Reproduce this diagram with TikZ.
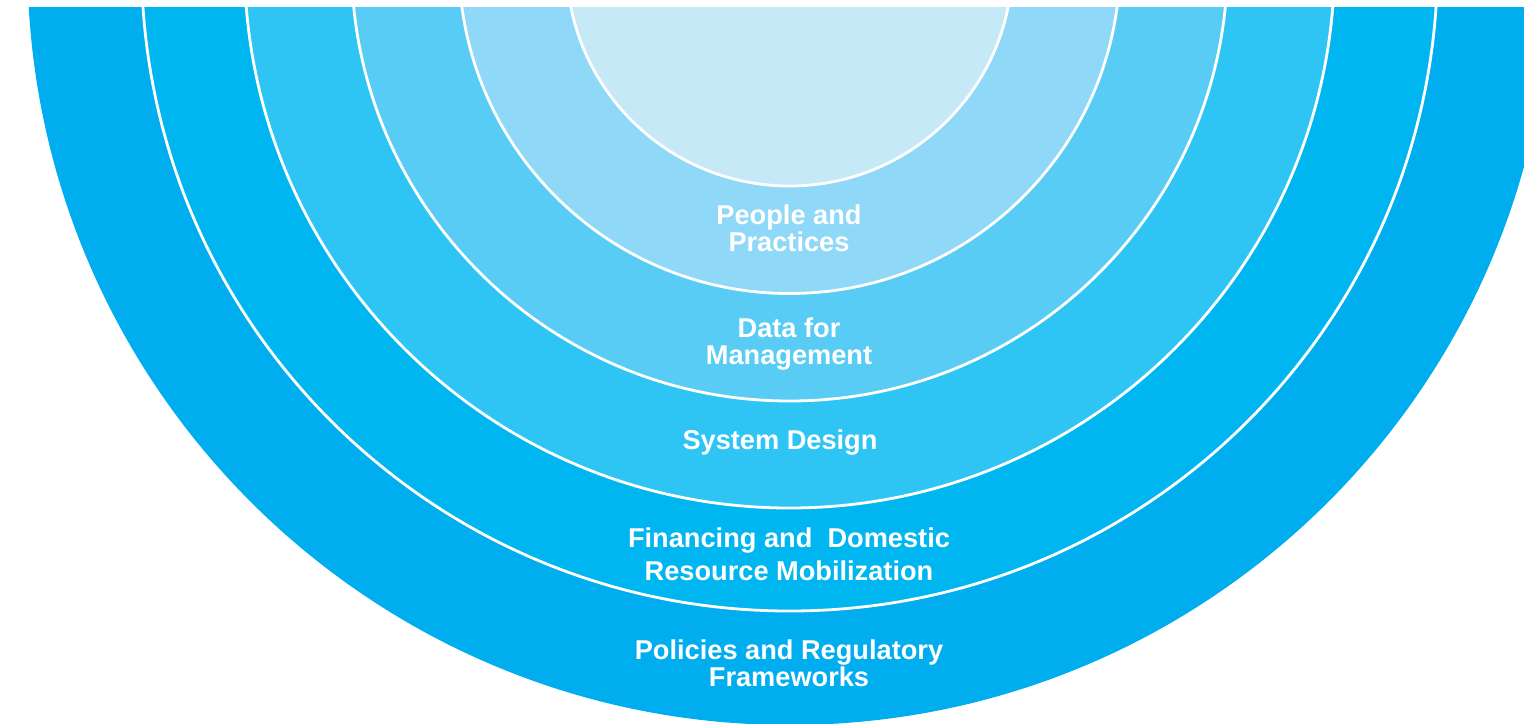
\documentclass[tikz,border=0pt]{standalone}
\usepackage{fontspec}
\setmainfont{Liberation Sans}
\usepackage{tikz}

\definecolor{ringA}{HTML}{00ADEE}
\definecolor{ringB}{HTML}{00B6F0}
\definecolor{ringC}{HTML}{2EC5F5}
\definecolor{ringD}{HTML}{59CCF5}
\definecolor{ringE}{HTML}{8FD8F7}
\definecolor{ringF}{HTML}{C6E9F8}

\begin{document}
\begin{tikzpicture}[x=0.5pt,y=0.5pt,
	ring/.style={draw=white,line width=1.4pt},
	layer/.style={text=white,align=center,inner sep=0pt,font=\bfseries\fontsize{13.6}{13.3}\selectfont}]
	\useasboundingbox (0,0) rectangle (1524,-723);
	\begin{scope}
	\clip (0,-7) rectangle (1524,-723);
	\fill[ringA] (789.5,37) circle[radius=762];
	\filldraw[ring,fill=ringB] (789.5,37) circle[radius=648];
	\filldraw[ring,fill=ringC] (789.5,37) circle[radius=545];
	\filldraw[ring,fill=ringD] (789.5,37) circle[radius=438];
	\filldraw[ring,fill=ringE] (789.5,37) circle[radius=330.5];
	\filldraw[ring,fill=ringF] (789.5,37) circle[radius=223];
	\end{scope}
	\node[layer] (people) at (789,-228) {People and\\Practices};
	\node[layer] (data) at (789,-344) {Data for\\Management};
	\node[layer] (system) at (780,-443) {System Design};
	\node[layer] (financing) at (789,-554) {Financing and\ \ Domestic\\[3pt]Resource Mobilization};
	\node[layer] (policies) at (789,-663) {Policies and Regulatory\\Frameworks};
\end{tikzpicture}
\end{document}
